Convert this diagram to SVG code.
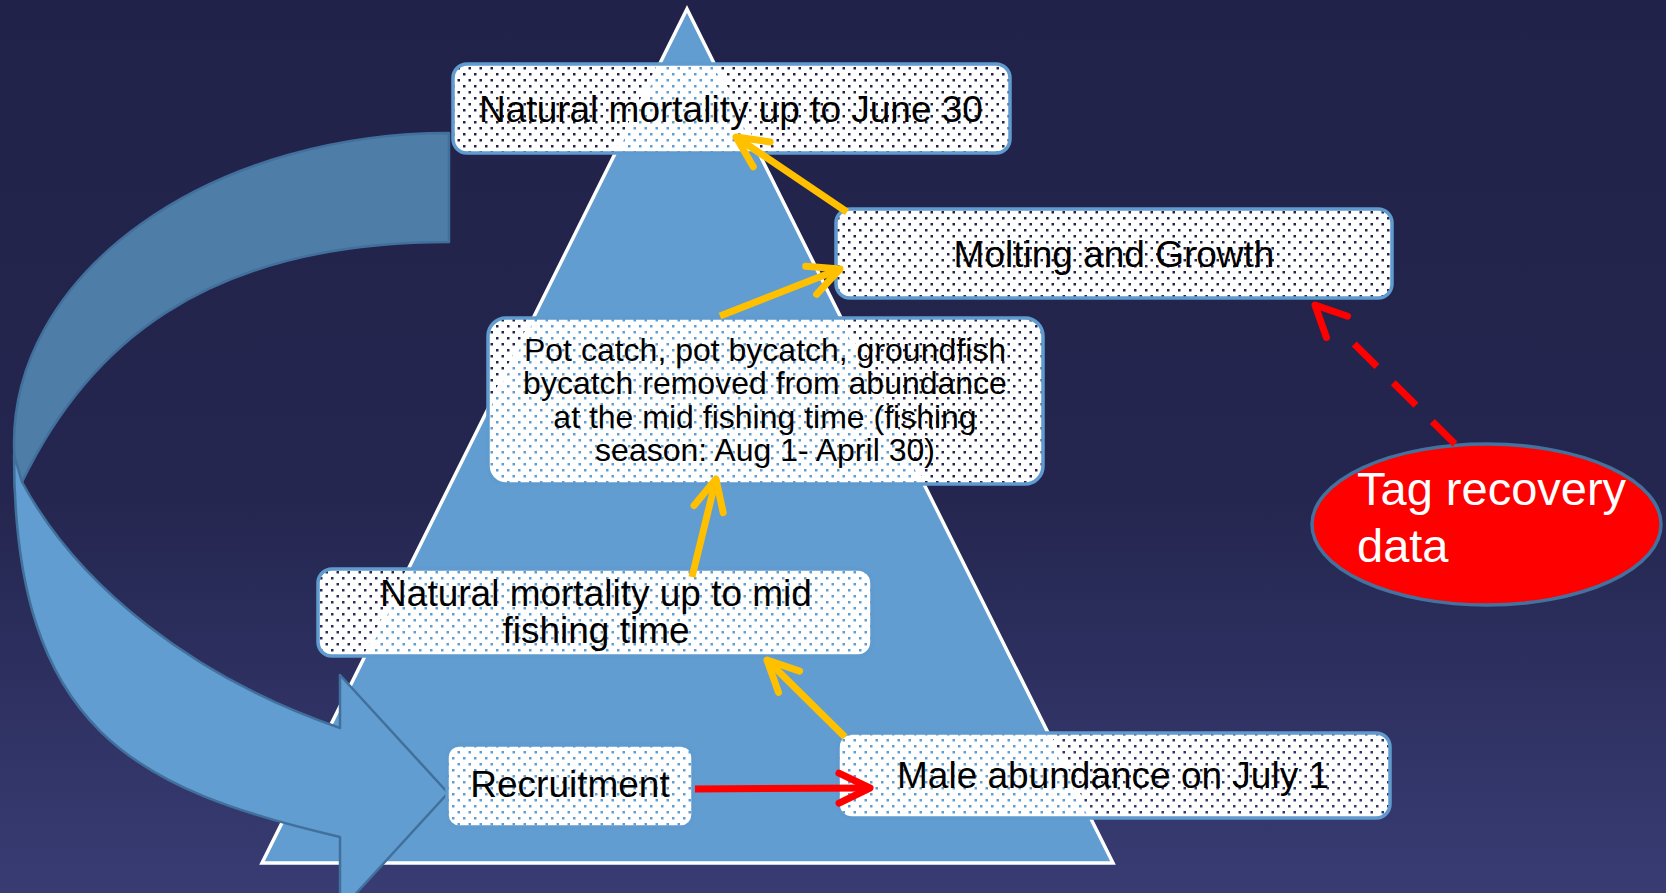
<svg xmlns="http://www.w3.org/2000/svg" width="1666" height="893" viewBox="0 0 1666 893">
<style>
.box{fill:url(#dots);stroke:#609BD0;stroke-width:3.5}
.t{font-family:"Liberation Sans",Arial,sans-serif;fill:#000;text-anchor:middle}
.t37{font-size:37px}
.t32{font-size:32px}
.orange{fill:none;stroke:#FFC000;stroke-width:7;marker-end:url(#ao)}
.red{fill:none;stroke:#FF0000;stroke-width:7;marker-end:url(#ar)}
.band{stroke:#41709C;stroke-width:2.5;stroke-linejoin:round}
</style>
<defs>
<linearGradient id="bg" x1="0" y1="0" x2="0" y2="1">
<stop offset="0" stop-color="#212249"/>
<stop offset="0.55" stop-color="#24264F"/>
<stop offset="1" stop-color="#383C73"/>
</linearGradient>
<pattern id="dots" width="11" height="12" patternUnits="userSpaceOnUse">
<path d="M0 0H11V12H0Z M1 1H3.5V3.5H1Z M6.5 7H9V9.5H6.5Z" fill="#fff" fill-rule="evenodd"/>
</pattern>
<marker id="ao" markerUnits="userSpaceOnUse" orient="auto" overflow="visible" markerWidth="1" markerHeight="1" refX="0" refY="0">
<path d="M-31,-15 L0,0 L-31,15" fill="none" stroke="#FFC000" stroke-width="7" stroke-linecap="round" stroke-linejoin="round"/>
</marker>
<marker id="ar" markerUnits="userSpaceOnUse" orient="auto" overflow="visible" markerWidth="1" markerHeight="1" refX="0" refY="0">
<path d="M-31,-15 L0,0 L-31,15" fill="none" stroke="#FF0000" stroke-width="7" stroke-linecap="round" stroke-linejoin="round"/>
</marker>
</defs>
<rect x="0" y="0" width="1666" height="893" fill="url(#bg)"/>
<g id="pyramid">
<polygon points="687,9 1113,863 262,863" fill="#619DD1" stroke="#FFFFFF" stroke-width="3.5" stroke-linejoin="miter"/>
</g>
<g id="cycle-arrow">
<path class="band" fill="#4E7DA8" d="M449,133 A435,310 0 0 0 14,443 L15,490 L22,482 C85,351 199,242 449,242 Z"/>
<path class="band" fill="#619DD1" d="M14,455 C14,730 135.6,789.4 340,837 L340,911 L448,793 L340,675 L340,728 C194,678 78,586 22,482 Z"/>
</g>
<g id="node-june30">
<rect class="box" x="453" y="64" width="557" height="89" rx="14"/>
<text class="t t37" x="731" y="122">Natural mortality up to June 30</text>
</g>
<g id="node-molting">
<rect class="box" x="836" y="209" width="556" height="89" rx="14"/>
<text class="t t37" x="1114" y="267">Molting and Growth</text>
</g>
<g id="node-catch">
<rect class="box" x="488" y="318" width="555" height="166" rx="18"/>
<text class="t t32" x="765" y="361">Pot catch, pot bycatch, groundfish</text>
<text class="t t32" x="765" y="394">bycatch removed from abundance</text>
<text class="t t32" x="765" y="428">at the mid fishing time (fishing</text>
<text class="t t32" x="765" y="461">season: Aug 1- April 30)</text>
</g>
<g id="node-midmortality">
<rect class="box" x="318" y="569" width="554" height="87" rx="14"/>
<text class="t t37" x="596" y="606">Natural mortality up to mid</text>
<text class="t t37" x="596" y="643">fishing time</text>
</g>
<g id="node-recruitment">
<rect class="box" x="447" y="745" width="246" height="82" rx="12"/>
<text class="t t37" x="570" y="797">Recruitment</text>
</g>
<g id="node-male">
<rect class="box" x="838" y="733" width="552" height="85" rx="14"/>
<text class="t t37" x="1113" y="788">Male abundance on July 1</text>
</g>
<g id="node-tag">
<ellipse cx="1486.5" cy="524.5" rx="174.5" ry="80.5" fill="#FF0000" stroke="#44719E" stroke-width="3.5"/>
<text font-family="'Liberation Sans',Arial,sans-serif" font-size="47" fill="#FFFFFF" x="1357" y="505">Tag recovery</text>
<text font-family="'Liberation Sans',Arial,sans-serif" font-size="47" fill="#FFFFFF" x="1357" y="562">data</text>
</g>
<g id="connectors">
<path class="orange" d="M847,212 L736,137"/>
<path class="orange" d="M720,316 L840,269"/>
<path class="orange" d="M692,577 L716,479"/>
<path class="orange" d="M845,737 L767,660"/>
<path class="red" d="M695,789 L870,788"/>
<path class="red" d="M1455,444 L1315,305" stroke-dasharray="32 23 32 23 32 100"/>
</g>
</svg>
